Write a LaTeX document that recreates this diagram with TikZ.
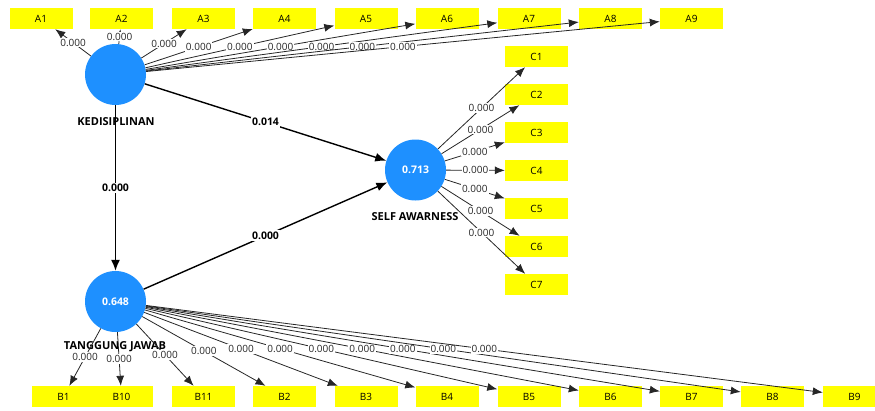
\documentclass[tikz,border=0pt]{standalone}
\usepackage{fontspec}
\setmainfont{Open Sans}
\usetikzlibrary{arrows.meta}
\definecolor{lvblue}{RGB}{30,144,255}
\definecolor{mvyellow}{RGB}{255,255,0}
\tikzset{
  lv/.style={circle,fill=lvblue,draw=none,minimum size=61pt,inner sep=0pt,text=white,font=\fontsize{10.5}{12}\selectfont\bfseries},
  mv/.style={rectangle,fill=mvyellow,draw=none,minimum width=63pt,minimum height=21pt,inner sep=0pt,font=\fontsize{10}{12}\selectfont},
  lvname/.style={font=\fontsize{11}{13}\selectfont\bfseries,inner sep=0pt},
  load/.style={-{Latex[length=10pt,width=8pt]},line width=0.8pt,draw=black!85},
  path/.style={-{Latex[length=11pt,width=9pt]},line width=1.4pt,draw=black},
  lw/.style={fill=white,inner sep=1pt,font=\fontsize{10}{12}\selectfont,text=black!85},
  pw/.style={fill=white,inner sep=1.5pt,font=\fontsize{10.5}{12}\selectfont\bfseries}
}
\begin{document}
\begin{tikzpicture}[x=1pt,y=-1pt]
\useasboundingbox (0,0) rectangle (875,410);
% indicator boxes A
\foreach \n/\x in {1/41,2/121.5,3/203.5,4/284.5,5/366,6/447,7/529,8/610.5,9/691.5}
  \node[mv] (A\n) at (\x,18.5) {A\n};
% indicator boxes C
\foreach \n/\y in {1/56.5,2/94.5,3/132.5,4/170.5,5/208.5,6/246.5,7/284.5}
  \node[mv] (C\n) at (536.5,\y) {C\n};
% indicator boxes B
\foreach \n/\x in {1/63.5,10/121.5,11/203.5,2/284.5,3/366,4/447,5/529,6/610.5,7/691.5,8/772.5,9/854.5}
  \node[mv] (B\n) at (\x,396.5) {B\n};
% latent variables
\node[lv] (K) at (115.5,74.5) {};
\node[lv] (T) at (115.5,301.5) {0.648};
\node[lv] (S) at (415.5,170) {0.713};
\node[lvname] (Kn) at (116,122) {KEDISIPLINAN};
\node[lvname] (Tn) at (115,347) {TANGGUNG JAWAB};
\node[lvname] (Sn) at (415,217) {SELF AWARNESS};
% loadings A
\foreach \n in {1,...,9}
  \draw[load] (K) -- node[lw] (lA\n) {0.000} (A\n);
% loadings C
\foreach \n in {1,...,7}
  \draw[load] (S) -- node[lw] (lC\n) {0.000} (C\n);
% loadings B
\foreach \n in {1,10,11,2,3,4,5,6,7,8,9}
  \draw[load] (T) -- node[lw] (lB\n) {0.000} (B\n);
% structural paths
\draw[path] (K) -- node[pw] (p1) {0.014} (S);
\draw[path] (K) -- node[pw] (p2) {0.000} (T);
\draw[path] (T) -- node[pw] (p3) {0.000} (S);
\end{tikzpicture}
\end{document}
